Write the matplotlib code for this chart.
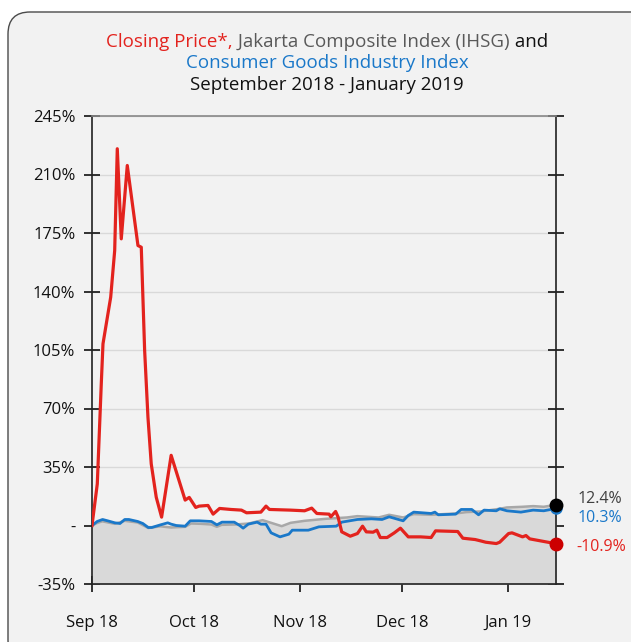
import matplotlib
matplotlib.use("Agg")
import matplotlib.pyplot as plt
from matplotlib.patches import FancyBboxPatch
import numpy as np
import pandas as pd

plt.rcParams['font.family'] = ['Open Sans', 'DejaVu Sans']

# ---- data (day offsets from 1 Sep 2018, percent change) ----
red_days = [0, 1.55, 2.25, 2.72, 3.22, 4.19, 5.48, 6.15, 6.65, 7.41, 8.58, 10.34, 13.47, 14.44,
            15.43, 16.4, 17.36, 18.83, 20.4,
            23.2, 27.3, 28.5, 30.4, 31.4, 34, 35.5, 37.4, 40.7, 43.8, 45.3, 49.5, 51, 52,
            58.2, 62.3, 64.4, 65.9, 69.5, 70, 71.4, 72.1, 73.2, 75.7, 77.8, 79.3, 80.4,
            82.4, 83.5, 84.5, 86.5, 88.6, 90.4, 92.7, 96.3, 99.4, 100.7, 107.2, 108.7,
            112.3, 113.9, 115.4, 118.5, 119.5, 122.1, 123.1, 126.2, 127.2, 128.3, 136]
red_vals = [0, 24.9, 60.8, 84.8, 108.7, 120.7, 136.6, 152.6, 164.5, 225.4, 171.5, 215.4, 167.5, 166.5,
            104.7, 64.8, 36.9, 16.9, 5.0,
            42.0, 15.2, 16.8, 10.8, 11.6, 12.0, 6.8, 10.2, 9.6, 9.2, 7.6, 8.0, 11.6, 9.6,
            9.2, 8.8, 10.4, 7.2, 6.8, 5.2, 8.4, 5.2, -3.8, -6.4, -4.8, -0.4, -3.8,
            -4.0, -2.8, -7.2, -7.2, -4.4, -1.6, -6.8, -6.8, -7.2, -3.2, -3.6, -7.6,
            -8.4, -9.2, -10.0, -10.8, -10.0, -4.8, -4.4, -6.8, -6.0, -8.0, -10.9]

blue_days = [0, 1.5, 3.1, 4.6, 6.7, 8.2, 9.6, 10.8, 13.4, 14.9, 16.5, 17.5, 20.1, 22.2, 23.2,
             24.7, 27.3, 28.8, 31.4, 35, 36.6, 38.1, 41.7, 43.3, 44.3, 45.8, 48.4, 49.5, 51,
             52.5, 55.1, 57.7, 58.7, 63.4, 66.5, 71.6, 73.2, 77.8, 81.9, 85, 87.1, 91.2, 92.7,
             94.3, 99.4, 100.5, 101.5, 106.6, 108.2, 111.3, 113.3, 114.9, 118.5, 119.5, 121.6,
             125.7, 129.3, 132.4, 134.5, 136]
blue_vals = [0, 2.4, 3.6, 2.8, 1.6, 1.2, 3.6, 3.6, 2.4, 1.2, -1.2, -1.2, 0.4, 1.6, 0.8,
             0.0, -0.4, 2.8, 2.8, 2.4, 0.4, 2.0, 2.0, 0.0, -1.6, 0.8, 2.0, 0.8, 0.8,
             -4.4, -6.8, -5.2, -2.8, -2.8, -0.8, -0.4, 2.0, 3.6, 4.0, 3.6, 5.2, 2.8, 6.0,
             8.0, 7.2, 8.0, 6.4, 6.8, 9.6, 9.6, 6.4, 9.2, 8.8, 10.0, 8.8,
             8.0, 9.2, 8.8, 9.6, 10.3]

gray_days = [0, 1.5, 3, 6.7, 9.6, 13.4, 16.5, 20, 23.2, 25, 27.3, 29, 32, 35, 36.6, 38, 42,
             46, 50, 52.5, 55.6, 58.2, 62.3, 68.5, 74.7, 77.8, 84, 87.1, 91.2, 94.3, 99.4,
             106.6, 109.7, 113.9, 119.5, 121.6, 126.2, 129.3, 132.4, 136]
gray_vals = [0, 1.5, 2.5, 1.0, 2.8, 1.8, -1.5, -0.5, -1.2, -1.0, -0.8, 1.2, 1.0, 0.6, -0.8, 0.4, 0.6,
             1.2, 3.2, 1.6, -0.4, 1.6, 2.8, 4.0, 4.8, 5.6, 4.8, 6.4, 4.8, 6.8, 6.4,
             7.2, 8.0, 8.4, 10.0, 10.8, 11.2, 11.6, 11.2, 12.4]

y_ticks = [-35, 0, 35, 70, 105, 140, 175, 210, 245]
y_tick_labels = ['-35%', '-', '35%', '70%', '105%', '140%', '175%', '210%', '245%']
x_tick_dates = ['2018-09-01', '2018-10-01', '2018-11-01', '2018-12-01', '2019-01-01']
x_tick_labels = ['Sep 18', 'Oct 18', 'Nov 18', 'Dec 18', 'Jan 19']
end_labels = ['12.4%', '10.3%', '-10.9%']

base = pd.Timestamp('2018-09-01')
def to_dates(days):
    return base + pd.to_timedelta(np.array(days, dtype=float), unit='D')

RED = '#e3231e'
BLUE = '#1a78c9'
GRAY = '#a8a8a8'
BG = '#f2f2f2'

fig = plt.figure(figsize=(6.31, 6.42), dpi=100)
fig.patch.set_facecolor('white')

# rounded panel
W, H = 631, 642
panel = FancyBboxPatch((8 / W, -20 / H), (W + 40 - 8) / W, (H - 12 + 20) / H,
                       boxstyle="round,pad=0,rounding_size=0.035",
                       transform=fig.transFigure, facecolor=BG, edgecolor='#4a4a4a',
                       linewidth=1.0, zorder=-5, mutation_aspect=W / H)
fig.patches.append(panel)

ax = fig.add_axes([92 / W, 1 - 584 / H, (556 - 92) / W, (584 - 116) / H])
ax.set_zorder(2)
ax.set_facecolor(BG)

gd = to_dates(gray_days)
bd = to_dates(blue_days)
rd = to_dates(red_days)

ax.fill_between(gd, gray_vals, -35, color='#d9d9d9', zorder=1, linewidth=0)
ax.plot(gd, gray_vals, color=GRAY, lw=1.8, zorder=3)
ax.plot(bd, blue_vals, color=BLUE, lw=2.0, zorder=4)
ax.plot(rd, red_vals, color=RED, lw=2.3, zorder=5, solid_joinstyle='round')

ax.plot(bd[-1:], blue_vals[-1:], 'o', color=BLUE, ms=8, zorder=6, clip_on=False)
ax.plot(gd[-1:], gray_vals[-1:], 'o', color='black', ms=9, zorder=7, clip_on=False)
ax.plot(rd[-1:], red_vals[-1:], 'o', color='#cc0000', ms=9, zorder=7, clip_on=False)

ax.set_xlim(to_dates([0])[0], to_dates([136])[0])
ax.set_ylim(-35, 245)
ax.set_yticks(y_ticks)
ax.set_yticklabels(y_tick_labels)
ax.set_xticks(pd.to_datetime(x_tick_dates))
ax.set_xticklabels(x_tick_labels)

ax.grid(axis='y', color='#d9d9d9', lw=1.0, zorder=0)
ax.set_axisbelow(True)

ax.tick_params(axis='y', which='both', direction='inout', length=12, width=1.2,
               left=True, right=True, labelsize=12, pad=6, colors='#111111')
ax.tick_params(axis='x', direction='inout', length=12, width=1.2, labelsize=12,
               pad=16, colors='#111111')
for s in ['left', 'right', 'bottom']:
    ax.spines[s].set_color('#222222')
    ax.spines[s].set_linewidth(1.2)
ax.spines['top'].set_color('#888888')
ax.spines['top'].set_linewidth(1.2)

# end labels
fig.text(578 / W, (H - 499) / H, end_labels[0], color='#404040', fontsize=11.5, va='center', ha='left')
fig.text(578 / W, (H - 518) / H, end_labels[1], color=BLUE, fontsize=11.5, va='center', ha='left')
fig.text(576 / W, (H - 547) / H, end_labels[2], color=RED, fontsize=11.5, va='center', ha='left')

# title, multi colored first line
fig.canvas.draw()
renderer = fig.canvas.get_renderer()
parts = [("Closing Price*,", RED), (" Jakarta Composite Index (IHSG)", '#595959'), (" and", '#111111')]
fs = 13.5
widths = []
tmp = []
for s, c in parts:
    t = fig.text(0, 0, s, fontsize=fs, color=c)
    widths.append(t.get_window_extent(renderer).width)
    tmp.append(t)
total = sum(widths)
x0 = 327 - total / 2
y1 = H - 42
for t, w in zip(tmp, widths):
    t.set_position((x0 / W, y1 / H))
    t.set_va('center')
    x0 += w
fig.text(327 / W, (H - 63) / H, "Consumer Goods Industry Index", fontsize=fs, color=BLUE,
         ha='center', va='center')
fig.text(327 / W, (H - 85) / H, "September 2018 - January 2019", fontsize=fs, color='#111111',
         ha='center', va='center')

fig.savefig('out.png', dpi=100, facecolor=fig.get_facecolor())
